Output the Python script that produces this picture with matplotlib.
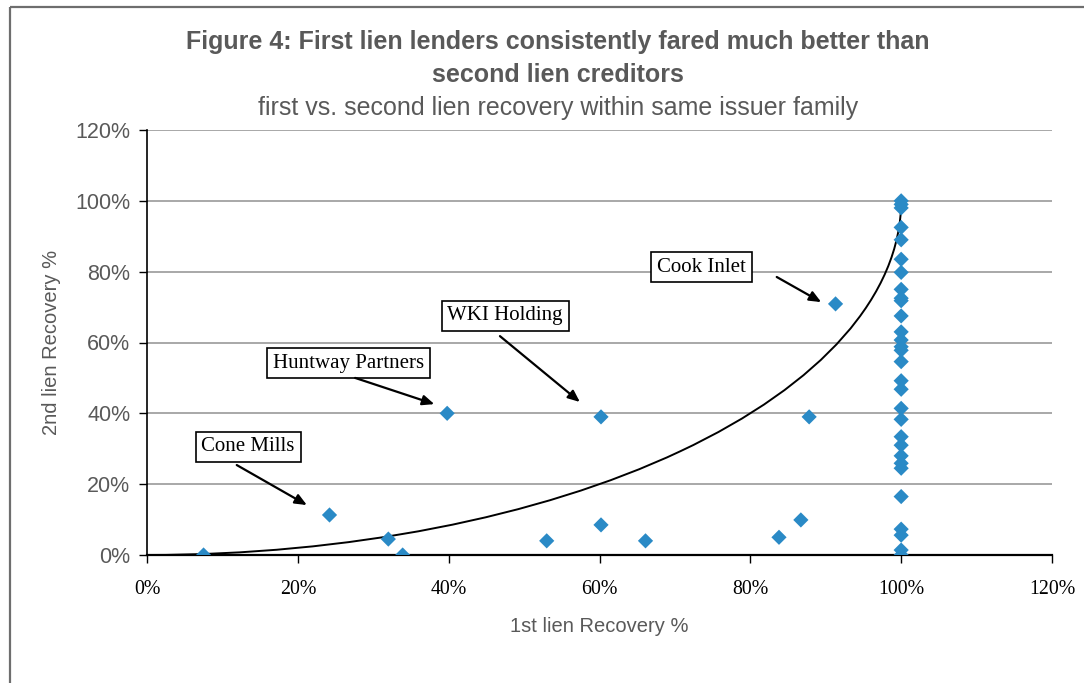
import matplotlib
matplotlib.use("Agg")
import matplotlib.pyplot as plt
from matplotlib.patches import Arc, Rectangle
from matplotlib.ticker import FuncFormatter

# ---- data (recovery %) ----
first_lien = [7.5, 24.2, 32.0, 33.9, 39.8, 53.0, 60.2, 60.2, 66.1, 83.8, 86.7, 87.8, 91.3]
second_lien = [0.0, 11.3, 4.5, 0.0, 40.0, 4.0, 39.0, 8.5, 4.0, 5.0, 9.9, 39.0, 70.9]
full_first_second = [100, 99, 98, 92.5, 89, 83.5, 79.8, 75, 72.5, 71.8, 67.5, 63, 60.7,
                     58.8, 57.8, 54.6, 49.2, 46.8, 41.4, 38.3, 33.4, 31, 28, 25.9, 24.5,
                     16.5, 7.3, 5.6, 1.4, 0.0]
x_vals = first_lien + [100] * len(full_first_second)
y_vals = second_lien + full_first_second

x_ticks = [0, 20, 40, 60, 80, 100, 120]
y_ticks = [0, 20, 40, 60, 80, 100, 120]

labels = ["Cone Mills", "Huntway Partners", "WKI Holding", "Cook Inlet"]
label_pos = [(13.4, 30.5), (26.7, 54.2), (47.5, 67.5), (73.5, 81.3)]
arrow_tail = [(11.9, 25.4), (27.6, 50.0), (46.8, 61.8), (83.5, 78.5)]
arrow_head = [(21.2, 14.1), (38.1, 42.6), (57.4, 43.2), (89.4, 71.4)]

title1 = "Figure 4: First lien lenders consistently fared much better than"
title2 = "second lien creditors"
subtitle = "first vs. second lien recovery within same issuer family"

W, H = 1084, 683
fig = plt.figure(figsize=(W / 100, H / 100), dpi=100)
fig.patch.set_facecolor("white")

# outer frame
fig.add_artist(Rectangle((10 / W, 1 - 7 / H), 1.2, -1.2, transform=fig.transFigure,
                         fill=False, edgecolor="#6e6e6e", linewidth=1.6))

ax = fig.add_axes([147 / W, 1 - 555 / H, (1052 - 147) / W, (555 - 130) / H])
ax.set_xlim(0, 120)
ax.set_ylim(0, 120)

for yt in y_ticks[1:]:
    ax.axhline(yt, color="#9a9a9a", linewidth=1.2, zorder=0)

ax.scatter(x_vals, y_vals, marker="D", s=60, color="#2a8ac6", edgecolors="none", zorder=3)

# quarter-circle reference curve
ax.add_patch(Arc((0, 100), 200, 200, theta1=270, theta2=360, color="black",
                 linewidth=1.4, zorder=2))

for spine in ["top", "right"]:
    ax.spines[spine].set_visible(False)
ax.spines["left"].set_color("black")
ax.spines["bottom"].set_color("black")
ax.spines["left"].set_linewidth(1.2)
ax.spines["bottom"].set_linewidth(1.6)

ax.set_xticks(x_ticks)
ax.set_yticks(y_ticks)
ax.xaxis.set_major_formatter(FuncFormatter(lambda v, p: f"{int(v)}%"))
ax.yaxis.set_major_formatter(FuncFormatter(lambda v, p: f"{int(v)}%"))
ax.tick_params(axis="x", direction="out", length=6, width=1, color="black",
               labelsize=14.3, pad=12, labelcolor="black")
ax.tick_params(axis="y", direction="out", length=6, width=1, color="black",
               labelsize=15.5, pad=6, labelcolor="#595959")
for t in ax.get_xticklabels():
    t.set_family("Liberation Serif")
for t in ax.get_yticklabels():
    t.set_family("Liberation Sans")

ax.set_xlabel("1st lien Recovery %", family="Liberation Sans", fontsize=14.5,
              color="#595959", labelpad=13)
ax.set_ylabel("2nd lien Recovery %", family="Liberation Sans", fontsize=14.5,
              color="#595959", labelpad=10)

for lab, pos, tail, head in zip(labels, label_pos, arrow_tail, arrow_head):
    ax.text(pos[0], pos[1], lab, family="Liberation Serif", fontsize=15,
            ha="center", va="center", zorder=5,
            bbox=dict(boxstyle="square,pad=0.28", facecolor="white",
                      edgecolor="black", linewidth=1.2))
    ax.annotate("", xy=head, xytext=tail,
                arrowprops=dict(arrowstyle="-|>,head_length=0.7,head_width=0.3",
                                color="black", linewidth=1.6, shrinkA=0, shrinkB=0),
                zorder=5)

fig.text(558 / W, 1 - 42 / H, title1, ha="center", va="center", family="Liberation Sans",
         fontsize=18, fontweight="bold", color="#595959")
fig.text(558 / W, 1 - 75 / H, title2, ha="center", va="center", family="Liberation Sans",
         fontsize=18, fontweight="bold", color="#595959")
fig.text(558 / W, 1 - 108 / H, subtitle, ha="center", va="center", family="Liberation Sans",
         fontsize=18, color="#595959")

fig.savefig("out.png", dpi=100, facecolor="white")
